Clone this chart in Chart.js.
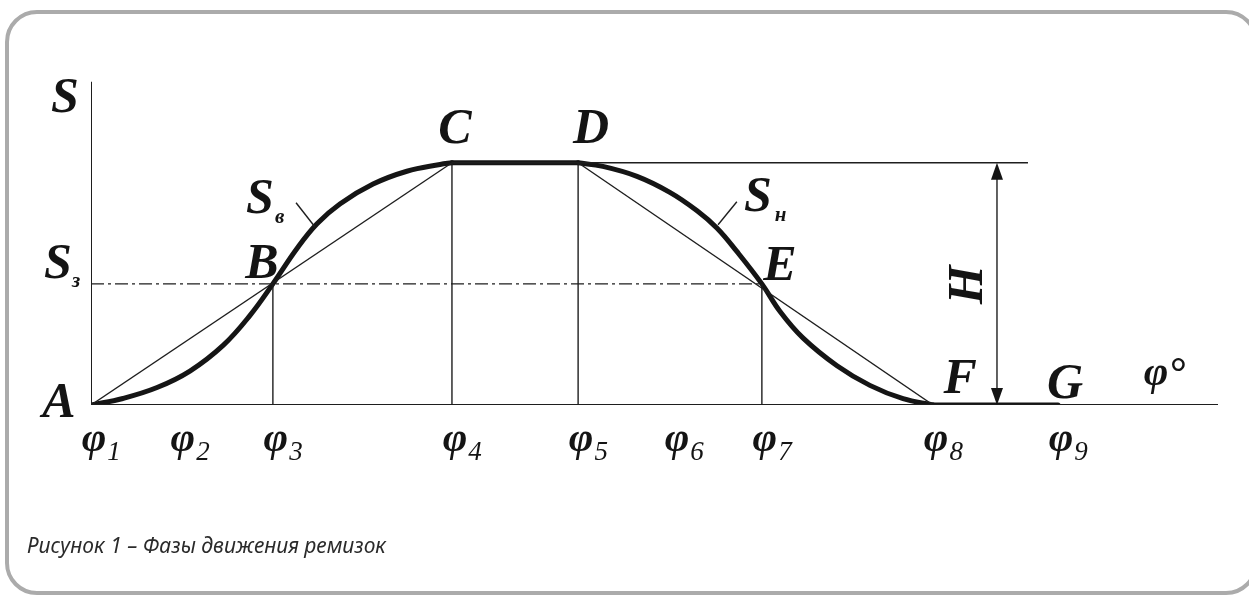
<!DOCTYPE html>
<html><head><meta charset="utf-8">
<script src="https://cdn.jsdelivr.net/npm/chart.js@4"></script>
<style>
html,body{margin:0;padding:0;background:#fff;overflow:hidden;width:1249px;height:597px;}
#c{position:absolute;left:0;top:0;}
</style></head><body>
<canvas id="c" width="1249" height="597"></canvas>
<script>
// ---- data (x in degrees φ, y in fractions of H) ----
const phiNames  = ['1','2','3','4','5','6','7','8','9'];
const phiTicks  = [0, 28.4, 58.1, 115.3, 155.6, 186.2, 214.3, 269.0, 308.9];
const riseX = [0, 10.2, 21.1, 31.6, 42.2, 50.8, 58.1, 65.8, 72.2, 79.5, 90.1, 100.9, 111.5, 115.3];
const riseS = [0, 0.027, 0.072, 0.140, 0.246, 0.370, 0.5, 0.646, 0.748, 0.830, 0.912, 0.965, 0.993, 1];
const fallX = [155.6, 163.5, 174.4, 184.9, 193.6, 200.0, 206.3, 214.3, 220.1, 227.4, 238.3, 248.8, 259.4, 269.0];
const fallS = [1, 0.985, 0.944, 0.878, 0.802, 0.730, 0.634, 0.5, 0.386, 0.277, 0.162, 0.081, 0.026, 0];
const gX = 308.9;
const H = 1;
const Sz = 0.5;
const xMax = 360;
const yTop = 1.335;
const hLineEnd = 299.3;
const arrowX = 289.4;
const leaderB = [[65.5, 0.835], [71.5, 0.736]];
const leaderH = [[206.3, 0.839], [200.3, 0.744]];

const pts = (xs, ys) => xs.map((x, i) => ({x, y: ys[i]}));
const seg = (x1, y1, x2, y2) => [{x: x1, y: y1}, {x: x2, y: y2}];
const thin = (data, extra) => Object.assign({data, borderColor: '#1e1e1e', borderWidth: 1.4, pointRadius: 0, tension: 0}, extra || {});
const thick = (data, tension) => ({data, borderColor: '#151515', borderWidth: 5, pointRadius: 0, tension, borderCapStyle: 'round', borderJoinStyle: 'round'});

const iC = riseX.length - 1, iF = fallX.length - 1;
const SERIF = '"Liberation Serif","DejaVu Serif",serif';

const framePlugin = {
  id: 'frame',
  beforeDraw(chart) {
    const ctx = chart.ctx, r = 30, L = 7, T = 12, R = 1256, B = 593;
    ctx.save();
    ctx.strokeStyle = '#ababab';
    ctx.lineWidth = 4;
    ctx.beginPath();
    ctx.arc(R - r, T + r, r, 0, -Math.PI / 2, true);
    ctx.lineTo(L + r, T);
    ctx.arc(L + r, T + r, r, -Math.PI / 2, Math.PI, true);
    ctx.lineTo(L, B - r);
    ctx.arc(L + r, B - r, r, Math.PI, Math.PI / 2, true);
    ctx.lineTo(R - r, B);
    ctx.arc(R - r, B - r, r, Math.PI / 2, 0, true);
    ctx.stroke();
    ctx.restore();
  }
};

const labelPlugin = {
  id: 'labels',
  afterDatasetsDraw(chart) {
    const ctx = chart.ctx, xs = chart.scales.x, ys = chart.scales.y;
    const px = v => xs.getPixelForValue(v), py = v => ys.getPixelForValue(v);
    ctx.save();
    ctx.fillStyle = '#141414';
    // arrowheads of H
    const ax = px(arrowX), t = py(H), b = py(0);
    ctx.beginPath(); ctx.moveTo(ax, t); ctx.lineTo(ax - 6, t + 17); ctx.lineTo(ax + 6, t + 17); ctx.closePath(); ctx.fill();
    ctx.beginPath(); ctx.moveTo(ax, b); ctx.lineTo(ax - 6, b - 17); ctx.lineTo(ax + 6, b - 17); ctx.closePath(); ctx.fill();

    const big = 'italic bold 50px ' + SERIF;
    const sub = 'italic bold 21px ' + SERIF;
    const txt = (s, x, y, font, align) => { ctx.font = font; ctx.textAlign = align || 'center'; ctx.textBaseline = 'alphabetic'; ctx.fillText(s, x, y); };
    // point letters
    txt('S', px(0) - 26, py(yTop) + 30, big);
    txt('A', px(0) - 32, py(0) + 12, big);
    txt('S', px(0) - 33, py(Sz) - 6, big);
    txt('з', px(0) - 19, py(Sz) + 3, sub, 'left');
    txt('B', px(riseX[6]) - 11, py(Sz) - 6, big);
    txt('S', px(riseX[6]) - 13, py(leaderB[0][1]) + 10, big);
    txt('в', px(riseX[6]) + 2, py(leaderB[0][1]) + 20, sub, 'left');
    txt('C', px(riseX[iC]) + 3, py(H) - 20, big);
    txt('D', px(fallX[0]) + 13, py(H) - 20, big);
    txt('E', px(fallX[7]) + 18, py(Sz) - 4, big);
    txt('S', px(leaderH[0][0]) + 21, py(leaderH[0][1]) + 9, big);
    txt('н', px(leaderH[0][0]) + 38, py(leaderH[0][1]) + 19, sub, 'left');
    txt('F', px(fallX[iF]) + 27, py(0) - 12, big);
    txt('G', px(gX) + 7, py(0) - 7, big);
    // H rotated
    ctx.save();
    ctx.translate(px(arrowX) - 30, (py(H) + py(0)) / 2 + 1);
    ctx.rotate(-Math.PI / 2);
    ctx.font = big; ctx.textAlign = 'center'; ctx.textBaseline = 'middle';
    ctx.fillText('H', 0, 2);
    ctx.restore();
    // φ°
    txt('φ', 1156, py(0) - 20, 'italic bold 42px ' + SERIF);
    ctx.font = 'bold 42px ' + SERIF; ctx.textAlign = 'left'; ctx.fillText('°', 1170, py(0) - 19);
    // φ tick labels
    phiTicks.forEach((v, i) => {
      const x = px(v) + 3;
      ctx.font = 'italic bold 42px ' + SERIF; ctx.textAlign = 'center';
      const w = ctx.measureText('φ').width;
      ctx.fillText('φ', x, py(0) + 46);
      ctx.font = 'italic 27px ' + SERIF; ctx.textAlign = 'left';
      ctx.fillText(phiNames[i], x + w / 2 + 1, py(0) + 55);
    });
    // caption
    ctx.fillStyle = '#2b2b2b';
    ctx.font = 'italic 21px "Noto Sans", "Open Sans", sans-serif'; ctx.textAlign = 'left';
    ctx.fillText('Рисунок 1 – Фазы движения ремизок', 27, 553);
    ctx.restore();
  }
};

new Chart(document.getElementById('c'), {
  type: 'line',
  data: {
    datasets: [
      thin(seg(0, 0, 0, yTop), {borderWidth: 2}),
      thin(seg(0, 0, xMax, 0), {borderWidth: 2}),
      thin(seg(riseX[0], riseS[0], riseX[iC], riseS[iC])),
      thin(seg(fallX[0], fallS[0], fallX[iF], fallS[iF])),
      thin(seg(riseX[iC], H, hLineEnd, H)),
      thin(seg(0, Sz, fallX[7], Sz), {borderDash: [13, 4, 3, 4]}),
      thin(seg(phiTicks[2], 0, phiTicks[2], Sz)),
      thin(seg(phiTicks[3], 0, phiTicks[3], H)),
      thin(seg(phiTicks[4], 0, phiTicks[4], H)),
      thin(seg(phiTicks[6], 0, phiTicks[6], Sz)),
      thin(seg(leaderB[0][0], leaderB[0][1], leaderB[1][0], leaderB[1][1])),
      thin(seg(leaderH[0][0], leaderH[0][1], leaderH[1][0], leaderH[1][1])),
      thin(seg(arrowX, 0.02, arrowX, H - 0.02)),
      thick(pts(riseX, riseS), 0.4),
      thick(seg(riseX[iC], H, fallX[0], H), 0),
      thick(pts(fallX, fallS), 0.4),
      thick(seg(fallX[iF], 0, gX, 0), 0)
    ]
  },
  options: {
    responsive: false,
    devicePixelRatio: 1,
    animation: false,
    layout: {padding: {left: 91, right: 31, top: 78, bottom: 192}},
    plugins: {legend: {display: false}, tooltip: {enabled: false}},
    scales: {
      x: {type: 'linear', min: 0, max: xMax, display: false},
      y: {type: 'linear', min: 0, max: 1.35, display: false}
    }
  },
  plugins: [framePlugin, labelPlugin]
});
</script>
</body></html>
